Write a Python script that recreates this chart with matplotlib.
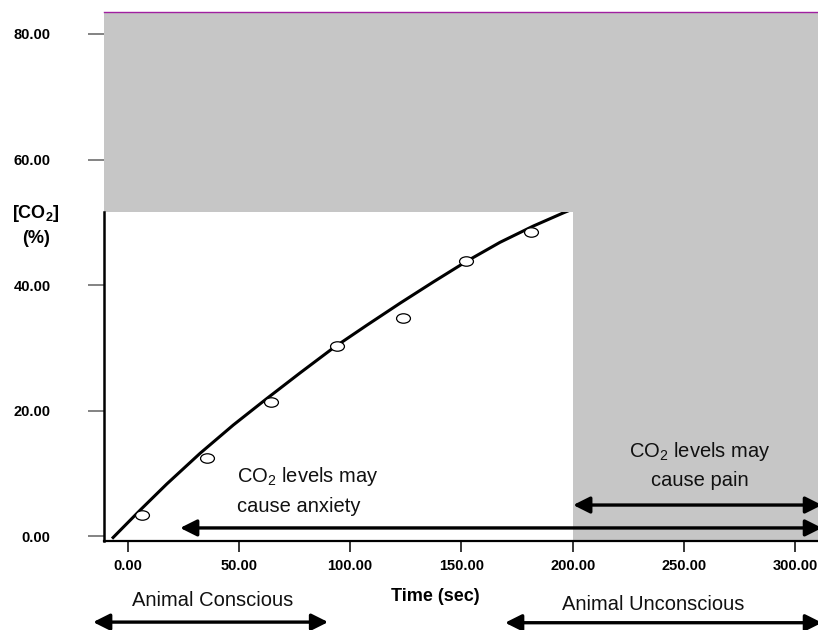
import matplotlib
matplotlib.use("Agg")
import matplotlib.pyplot as plt
import numpy as np
from matplotlib.path import Path

plt.rcParams['font.family'] = ['Liberation Sans', 'DejaVu Sans']
plt.rcParams['mathtext.fontset'] = 'custom'
plt.rcParams['mathtext.rm'] = 'Liberation Sans'
plt.rcParams['mathtext.default'] = 'regular'

# measured points (time in sec, CO2 in %)
obs_time = [6.4, 35.9, 64.3, 94.0, 123.6, 151.9, 181.1]
obs_co2 = [3.4, 12.5, 21.4, 30.3, 34.8, 43.9, 48.4]

# fitted curve
fit_time = [-7.0, 6.1, 17.6, 32.6, 47.5, 62.5, 77.5, 92.5, 107.5, 122.4,
            137.4, 152.4, 167.3, 182.3, 195.8, 203.3]
fit_co2 = [-0.4, 4.3, 8.3, 13.2, 17.7, 21.9, 26.0, 30.0, 33.6, 37.1,
           40.5, 43.8, 46.8, 49.4, 51.5, 52.6]

x_ticks = [0, 50, 100, 150, 200, 250, 300]
y_ticks = [0, 20, 40, 60, 80]
pain_start = 200      # sec
safe_limit = 51.6     # % CO2, top of white area

GRAY = '#c6c6c6'

fig = plt.figure(figsize=(8.18, 6.30), dpi=100)
ax = fig.add_axes([104 / 818, 89 / 630, 714 / 818, 529 / 630])
ax.set_xlim(-10.6, 310.2)
ax.set_ylim(-0.78, 83.5)

ax.axhspan(safe_limit, 90, color=GRAY, lw=0, zorder=2.2)
ax.axvspan(pain_start, 320, color=GRAY, lw=0, zorder=2.2)

ax.plot(fit_time, fit_co2, color='black', lw=2.2, zorder=2.0,
        solid_capstyle='butt')
ellipse = Path(Path.unit_circle().vertices * [1.0, 0.68], Path.unit_circle().codes)
ax.plot(obs_time, obs_co2, ls='none', marker=ellipse, markersize=10,
        mfc='white', mec='black', mew=0.9, zorder=2.1)

ax.spines['right'].set_visible(False)
ax.spines['top'].set_color('#a020a0')
ax.spines['top'].set_linewidth(1.0)
ax.spines['left'].set_linewidth(1.8)
ax.spines['left'].set_bounds(-0.78, safe_limit)
ax.spines['bottom'].set_linewidth(1.6)

ax.set_xticks(x_ticks)
ax.set_xticklabels([f"{v:.2f}" for v in x_ticks], fontweight='bold', fontsize=10.5)
ax.set_yticks(y_ticks)
ax.set_yticklabels([f"{v:.2f}" for v in y_ticks], fontweight='bold', fontsize=10.5)
ax.tick_params(axis='x', direction='out', length=8, width=1.1, color='black', pad=5)
ax.tick_params(axis='y', direction='out', length=11.5, width=1.3, color='#7a7a7a', pad=27)

# axis titles
ax.text(138.2, -10.4, "Time (sec)", ha='center', va='baseline',
        fontsize=13, fontweight='bold')
ax.text(-41.1, 50.7, "[CO$_2$]", ha='center', va='baseline',
        fontsize=13, fontweight='bold')
ax.text(-41.1, 46.7, "(%)", ha='center', va='baseline',
        fontsize=13, fontweight='bold')

# annotations
txt = dict(fontsize=14.5, color='#111111', va='baseline', zorder=5)
ax.text(49.2, 8.6, "CO$_2$ levels may", ha='left', **txt)
ax.text(49.2, 3.8, "cause anxiety", ha='left', **txt)
ax.text(257.2, 12.6, "CO$_2$ levels may", ha='center', **txt)
ax.text(257.2, 8.0, "cause pain", ha='center', **txt)
ax.text(38.0, -11.2, "Animal Conscious", ha='center', **txt)
ax.text(236.3, -11.8, "Animal Unconscious", ha='center', **txt)

arrow = dict(arrowstyle='<|-|>,head_length=1.0,head_width=0.5', color='black',
             lw=2.4, shrinkA=0, shrinkB=0, mutation_scale=10)


def double_arrow(x0, x1, y):
    ax.annotate('', xy=(x1, y), xytext=(x0, y), arrowprops=arrow,
                annotation_clip=False, zorder=5)


double_arrow(23.6, 312, 1.3)
double_arrow(200.2, 312, 4.95)
double_arrow(-15.5, 90.1, -13.7)
double_arrow(169.6, 312, -13.8)

fig.savefig("out.png", dpi=100)
